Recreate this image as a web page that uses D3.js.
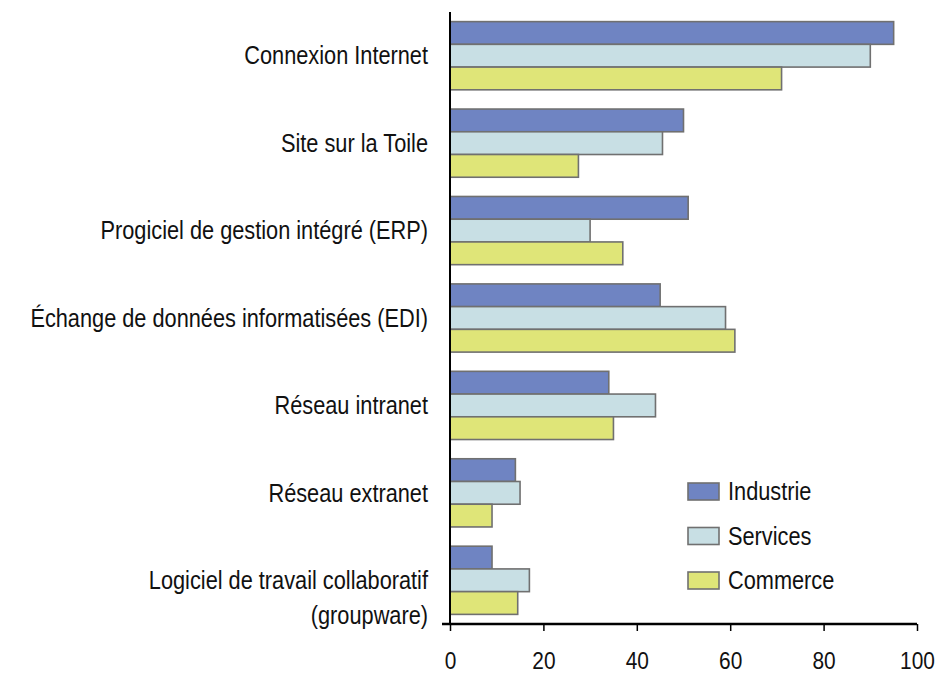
<!DOCTYPE html>
<html>
<head>
<meta charset="utf-8">
<title>Utilisation des TIC</title>
<script src="https://cdn.jsdelivr.net/npm/d3@7/dist/d3.min.js"></script>
<style>
body { margin:0; background:#fff; }
text { font-family:"Liberation Sans",Arial,sans-serif; fill:#111; }
</style>
</head>
<body>
<script>
// categories, top to bottom
var categories = [
  ["Connexion Internet"],
  ["Site sur la Toile"],
  ["Progiciel de gestion intégré (ERP)"],
  ["Échange de données informatisées (EDI)"],
  ["Réseau intranet"],
  ["Réseau extranet"],
  ["Logiciel de travail collaboratif", "(groupware)"]
];
var series = ["Industrie", "Services", "Commerce"];
var industrie = [95, 50, 51, 45, 34, 14, 9];
var services  = [90, 45.5, 30, 59, 44, 15, 17];
var commerce  = [71, 27.5, 37, 61, 35, 9, 14.5];
var colors = ["#6f84c2", "#c8dfe4", "#dfe578"];
var ticks = [0, 20, 40, 60, 80, 100];

var values = [industrie, services, commerce];
var width = 938, height = 675;
var narrow = 0.87; // no narrow font installed, squeeze the regular one

var svg = d3.select("body").append("svg")
  .attr("width", width)
  .attr("height", height);

var x = d3.scaleLinear().domain([0, 100]).range([450, 917]);
var y = d3.scaleBand().domain(d3.range(categories.length))
  .range([12, 624]).paddingInner(0.22).paddingOuter(0.11);
var yInner = d3.scaleBand().domain(d3.range(series.length))
  .range([0, y.bandwidth()]);

// bars
var groups = svg.selectAll("g.grp").data(categories).enter().append("g")
  .attr("class", "grp")
  .attr("transform", function(d, i) { return "translate(0," + y(i) + ")"; });

groups.each(function(d, i) {
  var g = d3.select(this);
  series.forEach(function(s, j) {
    g.append("rect")
      .attr("x", x(0))
      .attr("y", yInner(j))
      .attr("width", x(values[j][i]) - x(0))
      .attr("height", yInner.bandwidth())
      .attr("fill", colors[j])
      .attr("stroke", "#707070")
      .attr("stroke-width", 1.6);
  });
});

// category labels
groups.append("text")
  .attr("text-anchor", "end")
  .attr("transform", "translate(428," + (y.bandwidth() / 2) + ") scale(" + narrow + ",1)")
  .style("font-size", "25px")
  .each(function(d) {
    var t = d3.select(this);
    d.forEach(function(line, k) {
      t.append("tspan").attr("x", 0)
        .attr("dy", k == 0 ? "0.35em" : "1.4em")
        .text(line);
    });
  });

// axes
svg.append("line")
  .attr("x1", x(0)).attr("x2", x(0))
  .attr("y1", 12).attr("y2", 624)
  .attr("stroke", "#000").attr("stroke-width", 2);

var xAxis = svg.append("g")
  .attr("transform", "translate(0,624)")
  .call(d3.axisBottom(x).tickValues(ticks).tickSize(7));
xAxis.select(".domain").attr("d", "M442,0H917").attr("stroke", "#000").attr("stroke-width", 2.5);
xAxis.selectAll(".tick line").attr("stroke", "#000").attr("stroke-width", 1.5);
xAxis.selectAll(".tick text")
  .attr("y", 0).attr("dy", 0)
  .attr("transform", "translate(0,45) scale(" + narrow + ",1)")
  .style("font-size", "24px")
  .style("font-family", "'Liberation Sans',Arial,sans-serif")
  .attr("fill", "#111");

// legend
var legend = svg.selectAll("g.leg").data(series).enter().append("g")
  .attr("class", "leg")
  .attr("transform", function(d, i) { return "translate(688," + (483 + i * 44.5) + ")"; });
legend.append("rect")
  .attr("width", 31).attr("height", 17)
  .attr("fill", function(d, i) { return colors[i]; })
  .attr("stroke", "#707070").attr("stroke-width", 1.6);
legend.append("text")
  .attr("transform", "translate(40,8.5) scale(" + narrow + ",1)")
  .attr("dy", "0.35em")
  .style("font-size", "25px")
  .text(function(d) { return d; });
</script>
</body>
</html>
